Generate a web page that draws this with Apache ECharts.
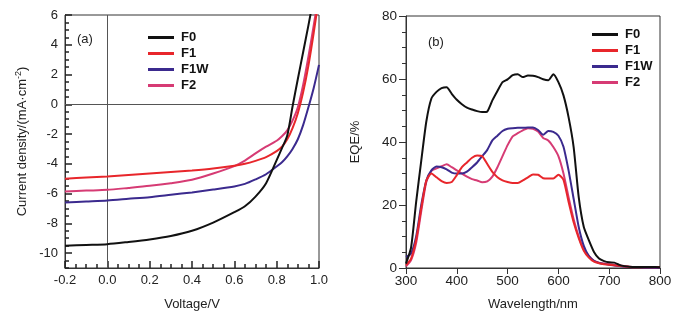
<!DOCTYPE html>
<html>
<head>
<meta charset="utf-8">
<script src="https://cdn.jsdelivr.net/npm/echarts@6/dist/echarts.min.js"></script>
<style>
html, body { margin: 0; padding: 0; background: #fff; }
#main { width: 689px; height: 317px; }
</style>
</head>
<body>
<div id="main"></div>
<script>
// (a) J-V curves
var voltage = [-0.2, -0.1, 0, 0.1, 0.2, 0.3, 0.4, 0.5, 0.6, 0.65, 0.7, 0.75, 0.8, 0.825, 0.85, 0.875, 0.9, 0.925, 0.95, 0.975, 1.0];
var jvF0  = [-9.5, -9.45, -9.4, -9.25, -9.08, -8.85, -8.5, -7.95, -7.25, -6.85, -6.2, -5.3, -3.75, -2.95, -2.1, -0.15, 1.7, 3.5, 5.3, 7.2, 9];
var jvF1  = [-5.0, -4.92, -4.85, -4.75, -4.65, -4.55, -4.45, -4.32, -4.13, -4.0, -3.8, -3.55, -3.15, -2.85, -2.35, -1.6, -0.6, 0.8, 2.6, 4.8, 7.2];
var jvF1W = [-6.6, -6.53, -6.46, -6.35, -6.24, -6.08, -5.92, -5.73, -5.52, -5.35, -5.05, -4.7, -4.18, -3.9, -3.5, -3.0, -2.35, -1.4, -0.2, 1.1, 2.65];
var jvF2  = [-5.86, -5.8, -5.75, -5.62, -5.48, -5.3, -5.07, -4.65, -4.15, -3.78, -3.3, -2.85, -2.45, -2.15, -1.75, -1.1, -0.2, 1.3, 3.2, 5.3, 7.5];
var jvTicks = [-10, -8, -6, -4, -2, 0, 2, 4, 6];

// (b) EQE spectra, 300..800 nm every 10 nm
var wavelength = [300,310,320,330,340,350,360,370,380,390,400,410,420,430,440,450,460,470,480,490,500,
  510,520,530,540,550,560,570,580,590,600,610,620,630,640,650,660,670,680,690,700,
  710,720,730,740,750,760,770,780,790,800];
var eqeF0 = [1.4,6.5,21,34,46.5,53.8,55.9,57.1,57.4,55.3,53.4,52,50.9,50.3,49.8,49.5,49.7,53.2,56.2,59,59.9,
  61.2,61.5,60.6,61.1,61,60.6,59.9,59.6,61.5,59,54.8,47.9,38.4,22.5,13,8.8,5.1,3,2.2,1.8,
  1.7,1,0.6,0.4,0.3,0.3,0.3,0.3,0.3,0.2];
var eqeF1 = [0.9,3,9,19,27.8,30,28.8,27.6,27,27.3,29.5,32,33.5,35,35.7,35.5,33,30.5,28.8,27.8,27.3,
  27,27,27.8,28.8,29.7,29.6,28.5,28.4,28.4,29.6,28,21,14.5,9.5,5.5,3.3,2,1.5,1.2,1,
  0.9,0.7,0.5,0.3,0.2,0.2,0.2,0.2,0.2,0.2];
var eqeF1W = [3.5,4.6,10,20,27.8,31,32.2,32,31.3,30.3,30,30,30.6,32,33.5,35.5,37.5,40.5,42,43.5,44.2,
  44.4,44.5,44.5,44.6,44.6,43.8,42.3,43.5,43.2,42,38.5,31,22,13,7,3.8,2.3,1.6,1.3,1,
  0.8,0.6,0.4,0.3,0.2,0.2,0.1,0.1,0,0.1];
var eqeF2 = [0.5,2.5,8,18,27.3,30.8,31.6,32.3,32.9,32,31,30,29,28.2,27.8,27.2,27.5,29,32,35.5,39,
  41.8,42.8,43.7,44.4,44.2,43.3,41.3,40.5,38.4,35.5,30,22.5,15.5,10,6,3.8,2.3,1.7,1.4,1.2,
  1,0.8,0.6,0.4,0.3,0.3,0.3,0.3,0.3,0.3];

var names = ['F0', 'F1', 'F1W', 'F2'];
var colors = ['#111111', '#e8262b', '#3b2a8e', '#d63b74'];

function pairs(xs, ys) {
	var out = [];
	for (var i = 0; i < xs.length; i++) out.push([xs[i], ys[i]]);
	return out;
}

var axisCol = '#333';
var tickCol = '#222';
var font = 'Liberation Sans, Arial, sans-serif';

var chart = echarts.init(document.getElementById('main'));

var jvData = [jvF0, jvF1, jvF1W, jvF2];
var eqeData = [eqeF0, eqeF1, eqeF1W, eqeF2];
var series = [];
names.forEach(function(n, i){
	var s = {
		name: n, type: 'line', xAxisIndex: 0, yAxisIndex: 0,
		data: pairs(voltage, jvData[i]), showSymbol: false, symbol: 'none',
		smooth: 0.25, lineStyle: {color: colors[i], width: 2}, itemStyle: {color: colors[i]},
		z: 10 - i
	};
	if (i === 0) {
		// zero lines of panel (a)
		s.markLine = {
			silent: true, symbol: 'none', label: {show: false},
			lineStyle: {color: '#555', width: 1, type: 'solid'},
			data: [{xAxis: 0}, {yAxis: 0}]
		};
	}
	series.push(s);
});
names.forEach(function(n, i){
	series.push({
		name: n, type: 'line', xAxisIndex: 1, yAxisIndex: 2,
		data: pairs(wavelength, eqeData[i]), showSymbol: false, symbol: 'none',
		smooth: 0.2, lineStyle: {color: colors[i], width: 2}, itemStyle: {color: colors[i]},
		z: 10 - i
	});
});

var legendBase = {
	orient: 'vertical', icon: 'rect', itemWidth: 26, itemHeight: 3, itemGap: 3,
	selectedMode: false, data: names,
	textStyle: {fontFamily: font, fontSize: 13, fontWeight: 'bold', color: '#111', lineHeight: 13, padding: [0, 0, 0, 2]}
};

chart.setOption({
	animation: false,
	textStyle: {fontFamily: font},
	title: [
		{text: '(a)', left: 77, top: 33, padding: 0, textStyle: {fontSize: 13, fontWeight: 'normal', color: '#222'}},
		{text: '(b)', left: 428, top: 36, padding: 0, textStyle: {fontSize: 13, fontWeight: 'normal', color: '#222'}}
	],
	legend: [
		Object.assign({}, legendBase, {left: 143, top: 26}),
		Object.assign({}, legendBase, {left: 587, top: 23})
	],
	grid: [
		{left: 65, top: 15, width: 254, height: 253, show: true, borderColor: axisCol, borderWidth: 1},
		{left: 406, top: 16, width: 254, height: 252, show: true, borderColor: axisCol, borderWidth: 1}
	],
	xAxis: [{
		gridIndex: 0, type: 'value', min: -0.2, max: 1.0, interval: 0.2,
		name: 'Voltage/V', nameLocation: 'middle', nameGap: 30,
		nameTextStyle: {fontSize: 13, color: '#222'},
		axisLine: {onZero: false, lineStyle: {color: axisCol}},
		axisTick: {show: true, inside: true, length: 7, lineStyle: {color: tickCol, width: 1.5}},
		minorTick: {show: true, splitNumber: 4, length: 4, lineStyle: {color: tickCol, width: 1.5}},
		axisLabel: {fontSize: 13, color: '#222', margin: 6, formatter: function(v){ return v.toFixed(1); }},
		splitLine: {show: false}
	}, {
		gridIndex: 1, type: 'value', min: 300, max: 800, interval: 100,
		name: 'Wavelength/nm', nameLocation: 'middle', nameGap: 30,
		nameTextStyle: {fontSize: 13, color: '#222'},
		axisLine: {onZero: false, lineStyle: {color: axisCol}},
		axisTick: {inside: false, length: 6, lineStyle: {color: axisCol}},
		axisLabel: {fontSize: 13.5, color: '#222', margin: 6},
		splitLine: {show: false}
	}],
	yAxis: [{
		gridIndex: 0, type: 'value', min: -11, max: 6,
		name: 'Current density/(mA·cm{sup|-2})', nameLocation: 'middle', nameGap: 35,
		nameTextStyle: {fontSize: 13, color: '#222', rich: {sup: {fontSize: 9, color: '#222', padding: [0, 0, 7, 0]}}},
		axisLine: {onZero: false, lineStyle: {color: axisCol}},
		axisTick: {show: true, inside: true, length: 7, customValues: jvTicks, lineStyle: {color: tickCol, width: 1.5}},
		axisLabel: {fontSize: 13, color: '#222', margin: 7, customValues: jvTicks},
		splitLine: {show: false}
	}, {
		gridIndex: 0, type: 'value', min: -11, max: 6, interval: 0.5, position: 'left',
		axisLine: {show: false, onZero: false},
		axisTick: {show: true, inside: true, length: 4, lineStyle: {color: tickCol, width: 1.5}},
		axisLabel: {show: false},
		splitLine: {show: false}
	}, {
		gridIndex: 1, type: 'value', min: 0, max: 80, interval: 20,
		name: 'EQE/%', nameLocation: 'middle', nameGap: 44,
		nameTextStyle: {fontSize: 13, color: '#222'},
		axisLine: {onZero: false, lineStyle: {color: axisCol}},
		axisTick: {inside: false, length: 7, lineStyle: {color: axisCol}},
		minorTick: {show: true, splitNumber: 4, length: 4, lineStyle: {color: axisCol}},
		axisLabel: {fontSize: 13.5, color: '#222', margin: 9},
		splitLine: {show: false}
	}],
	series: series
});
</script>
</body>
</html>
